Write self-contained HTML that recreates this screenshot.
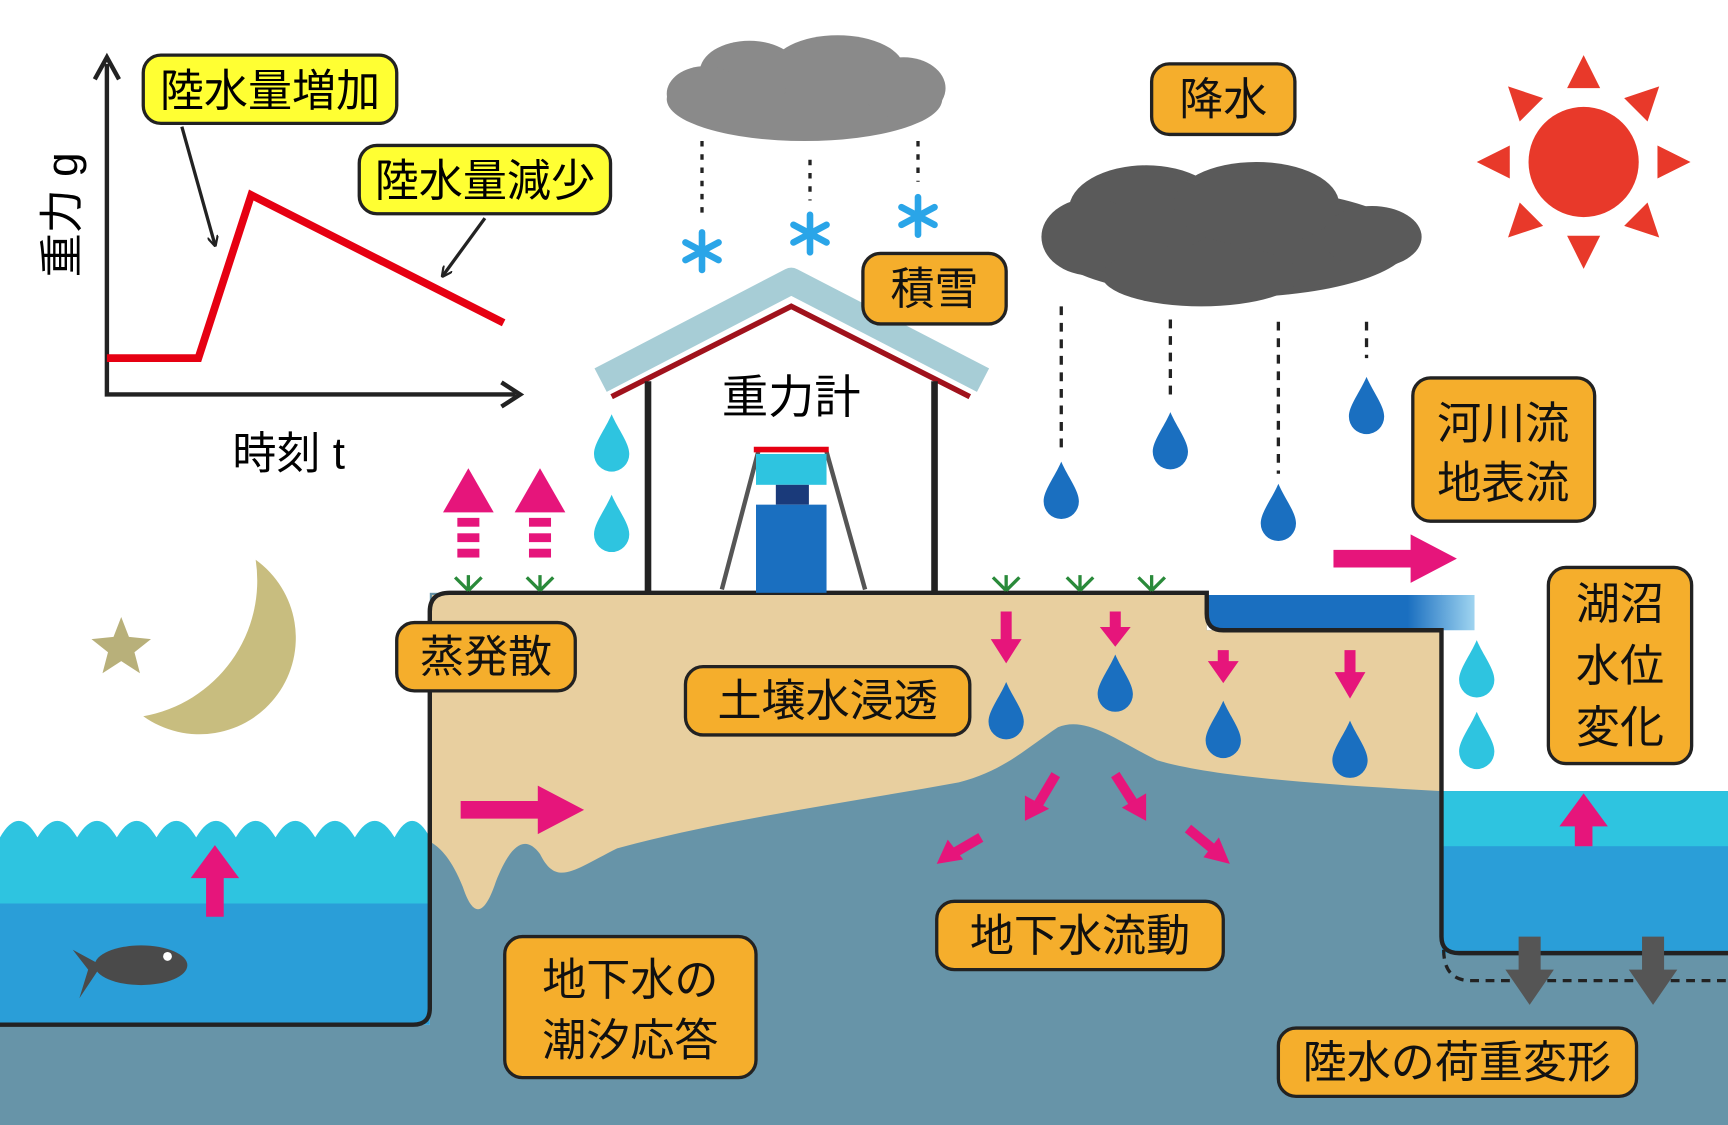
<!DOCTYPE html>
<html><head><meta charset="utf-8"><style>
html,body{margin:0;padding:0;background:#fff;}
svg{display:block;}
text{font-family:"Liberation Sans","Noto Sans CJK JP",sans-serif;}
</style></head><body>
<svg width="1728" height="1125" viewBox="0 0 1568 1021" preserveAspectRatio="none" xmlns="http://www.w3.org/2000/svg">
<defs>
<marker id="ah" markerWidth="10" markerHeight="10" refX="8" refY="5" orient="auto" markerUnits="userSpaceOnUse"><path d="M0,0 L10,5 L0,10" fill="none" stroke="#222" stroke-width="2"/></marker>
<linearGradient id="riv" x1="0" x2="1"><stop offset="0.75" stop-color="#1a6fc0"/><stop offset="1" stop-color="#9fd4f0"/></linearGradient>
<g id="drop"><path d="M0,-26 C6,-12 16,0 16,10 A16,16 0 0 1 -16,10 C-16,0 -6,-12 0,-26Z"/></g>
<g id="grass" stroke="#2a8a3a" stroke-width="3" fill="none"><path d="M0,0 L-12,-12 M0,0 L0,-14 M0,0 L12,-12"/></g>
<g id="snow" stroke="#2aa5e8" stroke-width="6" stroke-linecap="round"><line x1="0" y1="-17" x2="0" y2="17"/><line x1="-15" y1="-8" x2="15" y2="8"/><line x1="-15" y1="8" x2="15" y2="-8"/></g>
</defs>
<rect width="1568" height="1021" fill="#fff"/>
<rect x="0" y="538" width="1568" height="483" fill="#6794a8"/>
<rect x="1308" y="536" width="260" height="182" fill="#fff"/>
<rect x="1095" y="536" width="213" height="36" fill="#fff"/>
<!-- ocean -->
<rect x="0" y="536" width="390" height="394" fill="#fff"/>
<rect x="0" y="760" width="390" height="170" fill="#2a9ed8"/>
<path d="M0,760 Q17,730 34,760 Q52,730 70,760 Q88,730 106,760 Q124,730 142,760 Q160,730 178,760 Q196,730 214,760 Q232,730 250,760 Q268,730 286,760 Q304,730 322,760 Q340,730 358,760 Q374,730 390,760 L390,820 L0,820Z" fill="#2ec4e0"/>
<path d="M0,820 Q17,840 34,822 Q52,840 70,822 Q88,840 106,822 Q124,840 142,822 Q160,840 178,822 Q196,840 214,822 Q232,840 250,822 Q268,840 286,822 Q304,840 322,822 Q340,840 358,822 Q374,840 390,822 L390,835 L0,835Z" fill="#2a9ed8"/>
<!-- lake -->
<rect x="1308" y="718" width="260" height="147" fill="#2a9ed8"/>
<rect x="1308" y="718" width="260" height="50" fill="#2ec4e0"/>
<!-- soil -->
<path d="M392,540 L1095,540 L1095,572 L1308,572 L1308,718 C1200,712 1100,705 1050,690 C1010,670 985,650 960,660 C930,680 910,700 870,710 C760,730 650,745 560,770 C520,790 505,805 490,775 C475,755 462,770 450,800 C440,830 430,835 420,805 C410,780 400,770 392,765Z" fill="#e8cf9f"/>
<!-- river -->
<path d="M1095,540 L1338,540 L1338,572 L1110,572 Q1097,570 1095,558Z" fill="url(#riv)"/>
<!-- outline -->
<path d="M0,930 L375,930 Q390,930 390,915 L390,555 Q390,538 408,538 L1095,538 L1095,557 Q1095,572 1110,572 L1308,572 L1308,850 Q1308,865 1324,865 L1568,865" fill="none" stroke="#222" stroke-width="4"/>
<path d="M1310,862 Q1310,890 1335,890 L1568,890" fill="none" stroke="#222" stroke-width="3" stroke-dasharray="8,6"/>
<g fill="#555"><path d="M1378,850 h20 v30 h12 l-22,32 l-22,-32 h12Z"/><path d="M1490,850 h20 v30 h12 l-22,32 l-22,-32 h12Z"/></g>
<!-- graph -->
<g stroke="#222" stroke-width="4" fill="none">
<path d="M97,58 L97,358 L468,358"/>
<path d="M86,72 L97,52 L108,72"/><path d="M455,347 L472,358 L455,369"/>
</g>
<path d="M97,325 L180,325 L228,177 L457,293" fill="none" stroke="#e60012" stroke-width="7"/>
<line x1="165" y1="115" x2="195" y2="222" stroke="#222" stroke-width="3" marker-end="url(#ah)"/>
<line x1="440" y1="198" x2="402" y2="250" stroke="#222" stroke-width="3" marker-end="url(#ah)"/>
<rect x="130" y="50" width="230" height="62" rx="16" fill="#ffff33" stroke="#222" stroke-width="3"/>
<text x="245" y="96" font-size="40" text-anchor="middle">陸水量増加</text>
<rect x="326" y="132" width="228" height="62" rx="16" fill="#ffff33" stroke="#222" stroke-width="3"/>
<text x="440" y="178" font-size="40" text-anchor="middle">陸水量減少</text>
<text transform="translate(70,195) rotate(-90)" font-size="40" text-anchor="middle">重力 g</text>
<text x="262" y="425" font-size="40" text-anchor="middle">時刻 t</text>
<!-- left cloud -->
<g fill="#8a8a8a"><ellipse cx="730" cy="90" rx="125" ry="38"/><ellipse cx="680" cy="65" rx="45" ry="28"/><ellipse cx="760" cy="62" rx="60" ry="30"/><ellipse cx="640" cy="85" rx="35" ry="25"/><ellipse cx="820" cy="80" rx="38" ry="28"/></g>
<g stroke="#222" stroke-width="3" stroke-dasharray="5,7"><line x1="637" y1="128" x2="637" y2="198"/><line x1="735" y1="145" x2="735" y2="182"/><line x1="833" y1="128" x2="833" y2="165"/></g>
<use href="#snow" x="637" y="228"/><use href="#snow" x="735" y="212"/><use href="#snow" x="833" y="196"/>
<!-- right cloud -->
<g fill="#5a5a5a"><ellipse cx="1115" cy="220" rx="165" ry="50"/><ellipse cx="1040" cy="190" rx="70" ry="40"/><ellipse cx="1140" cy="185" rx="75" ry="38"/><ellipse cx="990" cy="215" rx="45" ry="35"/><ellipse cx="1245" cy="215" rx="45" ry="28"/><ellipse cx="1090" cy="250" rx="90" ry="28"/></g>
<g stroke="#222" stroke-width="3" stroke-dasharray="8,7"><line x1="963" y1="278" x2="963" y2="412"/><line x1="1062" y1="290" x2="1062" y2="360"/><line x1="1160" y1="292" x2="1160" y2="430"/><line x1="1240" y1="292" x2="1240" y2="325"/></g>
<g fill="#1a6fc0"><use href="#drop" x="963" y="445"/><use href="#drop" x="1062" y="400"/><use href="#drop" x="1160" y="465"/><use href="#drop" x="1240" y="368"/>
<use href="#drop" x="913" y="645"/><use href="#drop" x="1012" y="620"/><use href="#drop" x="1110" y="662"/><use href="#drop" x="1225" y="680"/></g>
<g fill="#2ec4e0"><use href="#drop" x="555" y="402"/><use href="#drop" x="555" y="475"/><use href="#drop" x="1340" y="607"/><use href="#drop" x="1340" y="672"/></g>
<!-- sun -->
<g fill="#e8392a"><circle cx="1437" cy="147" r="50"/>
<g id="tri"><path d="M1422,80 L1437,50 L1452,80Z"/></g>
<use href="#tri" transform="rotate(45 1437 147)"/><use href="#tri" transform="rotate(90 1437 147)"/><use href="#tri" transform="rotate(135 1437 147)"/><use href="#tri" transform="rotate(180 1437 147)"/><use href="#tri" transform="rotate(225 1437 147)"/><use href="#tri" transform="rotate(270 1437 147)"/><use href="#tri" transform="rotate(315 1437 147)"/></g>
<!-- house -->
<path d="M545,345 L718,255 L892,345" fill="none" stroke="#a7cdd6" stroke-width="24" stroke-linejoin="round"/>
<path d="M555,360 L718,278 L880,360" fill="none" stroke="#a0121c" stroke-width="5"/>
<g stroke="#222" stroke-width="6"><line x1="588" y1="346" x2="588" y2="538"/><line x1="848" y1="346" x2="848" y2="538"/></g>
<text x="718" y="375" font-size="42" text-anchor="middle">重力計</text>
<g stroke="#555" stroke-width="4"><line x1="655" y1="535" x2="688" y2="410"/><line x1="785" y1="535" x2="750" y2="410"/></g>
<line x1="684" y1="408" x2="752" y2="408" stroke="#e60012" stroke-width="5"/>
<rect x="686" y="412" width="64" height="28" fill="#2ec4e0"/>
<rect x="704" y="440" width="30" height="18" fill="#1a3a7a"/>
<rect x="686" y="458" width="64" height="80" fill="#1a6fc0"/>
<use href="#grass" x="425" y="536"/><use href="#grass" x="490" y="536"/><use href="#grass" x="913" y="536"/><use href="#grass" x="980" y="536"/><use href="#grass" x="1045" y="536"/>
<!-- magenta arrows -->
<g fill="#e6157b">
<path d="M402,465 L425,425 L448,465Z"/><rect x="415" y="470" width="20" height="8"/><rect x="415" y="484" width="20" height="8"/><rect x="415" y="498" width="20" height="8"/>
<path d="M467,465 L490,425 L513,465Z"/><rect x="480" y="470" width="20" height="8"/><rect x="480" y="484" width="20" height="8"/><rect x="480" y="498" width="20" height="8"/>
<path d="M418,727 h70 v-14 l42,22 l-42,22 v-14 h-70Z"/>
<path d="M1210,499 h70 v-14 l42,22 l-42,22 v-14 h-70Z"/>
<path d="M187,832 v-35 h-14 l22,-30 l22,30 h-14 v35Z"/>
<path d="M1429,768 v-18 h-14 l22,-30 l22,30 h-14 v18Z"/>
<path d="M908,555 h10 v25 h9 l-14,22 l-14,-22 h9Z"/>
<path d="M1007,555 h10 v14 h9 l-14,18 l-14,-18 h9Z"/>
<path d="M1105,590 h10 v10 h9 l-14,20 l-14,-20 h9Z"/>
<path d="M1220,590 h10 v20 h9 l-14,24 l-14,-24 h9Z"/>
</g>
<g stroke="#e6157b" stroke-width="9" fill="none">
<line x1="958" y1="703" x2="942" y2="730"/><line x1="1012" y1="703" x2="1028" y2="728"/><line x1="890" y1="760" x2="866" y2="774"/><line x1="1078" y1="752" x2="1100" y2="770"/></g>
<g fill="#e6157b">
<path d="M930,745 L930,722 L952,734Z"/><path d="M1040,745 L1018,733 L1040,720Z"/><path d="M850,784 L860,762 L874,780Z"/><path d="M1116,784 L1092,778 L1106,760Z"/></g>
<!-- moon & star -->
<path d="M232,508 A85,85 0 1 1 130,650 A125,125 0 0 0 232,508Z" fill="#c8bd7f"/>
<path d="M110,560 L117,578 L137,580 L122,592 L127,611 L110,600 L93,611 L98,592 L83,580 L103,578Z" fill="#b8b07a"/>
<!-- fish -->
<g fill="#4a4a4a"><ellipse cx="128" cy="876" rx="42" ry="18"/><path d="M92,876 L66,862 L80,880 L72,906Z"/></g>
<circle cx="152" cy="868" r="4" fill="#fff"/>
<!-- labels -->
<g fill="#f5ae2c" stroke="#222" stroke-width="3">
<rect x="1045" y="58" width="130" height="64" rx="16"/>
<rect x="783" y="230" width="130" height="64" rx="16"/>
<rect x="360" y="565" width="162" height="62" rx="16"/>
<rect x="622" y="605" width="258" height="62" rx="16"/>
<rect x="850" y="818" width="260" height="62" rx="16"/>
<rect x="458" y="850" width="228" height="128" rx="16"/>
<rect x="1160" y="933" width="325" height="62" rx="16"/>
<rect x="1282" y="343" width="165" height="130" rx="16"/>
<rect x="1405" y="515" width="130" height="178" rx="16"/>
</g>
<g font-size="40" text-anchor="middle" fill="#111">
<text x="1110" y="104">降水</text>
<text x="848" y="276">積雪</text>
<text x="441" y="610">蒸発散</text>
<text x="751" y="650">土壌水浸透</text>
<text x="980" y="863">地下水流動</text>
<text x="572" y="903">地下水の</text><text x="572" y="958">潮汐応答</text>
<text x="1322" y="978">陸水の荷重変形</text>
<text x="1364" y="398">河川流</text><text x="1364" y="452">地表流</text>
<text x="1470" y="562">湖沼</text><text x="1470" y="618">水位</text><text x="1470" y="674">変化</text>
</g>
</svg>
</body></html>
